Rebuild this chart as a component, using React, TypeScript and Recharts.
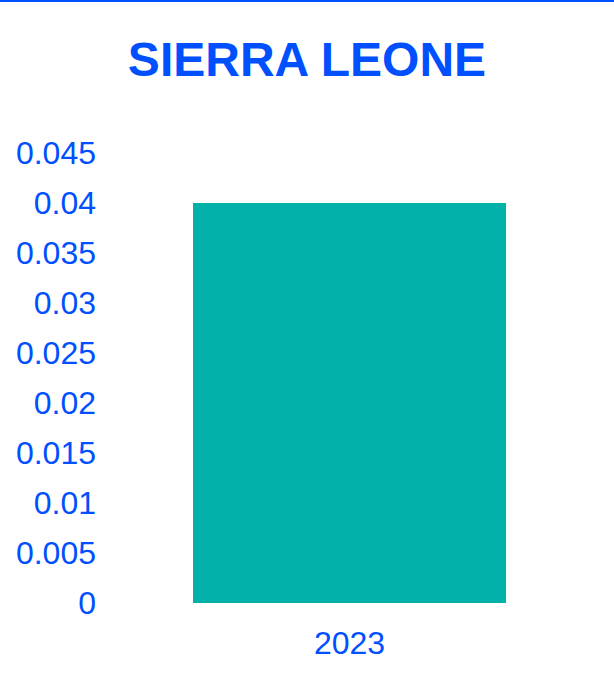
import { BarChart, Bar, XAxis, YAxis } from 'recharts';

const years = ['2023'];
const values = [0.04];
const yTicks = [0, 0.005, 0.01, 0.015, 0.02, 0.025, 0.03, 0.035, 0.04, 0.045];

const BLUE = '#0050ff';
const TEAL = '#02b2aa';

export default function App() {
  const data = years.map((year, i) => ({ year, value: values[i] }));

  return (
    <div
      style={{
        position: 'absolute',
        left: 0,
        top: 0,
        width: 614,
        height: 698,
        background: '#fff',
        borderTop: `2px solid ${BLUE}`,
        boxSizing: 'border-box',
        fontFamily: '"Liberation Sans", Arial, sans-serif',
      }}
    >
      <div
        style={{
          position: 'absolute',
          top: 30,
          left: 0,
          width: 614,
          textAlign: 'center',
          fontSize: 48,
          fontWeight: 'bold',
          color: BLUE,
          lineHeight: '56px',
        }}
      >
        SIERRA LEONE
      </div>
      <div style={{ position: 'absolute', left: 0, top: -2 }}>
        <BarChart
          width={614}
          height={698}
          data={data}
          margin={{ top: 153, right: 30, left: 0, bottom: 0 }}
        >
          <XAxis
            dataKey="year"
            axisLine={false}
            tickLine={false}
            tickSize={0}
            tickMargin={28}
            height={95}
            tick={{ fill: BLUE, fontSize: 32 }}
          />
          <YAxis
            domain={[0, 0.045]}
            ticks={yTicks}
            axisLine={false}
            tickLine={false}
            tickSize={0}
            tickMargin={19}
            width={115}
            interval={0}
            tick={{ fill: BLUE, fontSize: 32 }}
          />
          <Bar dataKey="value" fill={TEAL} barSize={313} isAnimationActive={false} />
        </BarChart>
      </div>
    </div>
  );
}
